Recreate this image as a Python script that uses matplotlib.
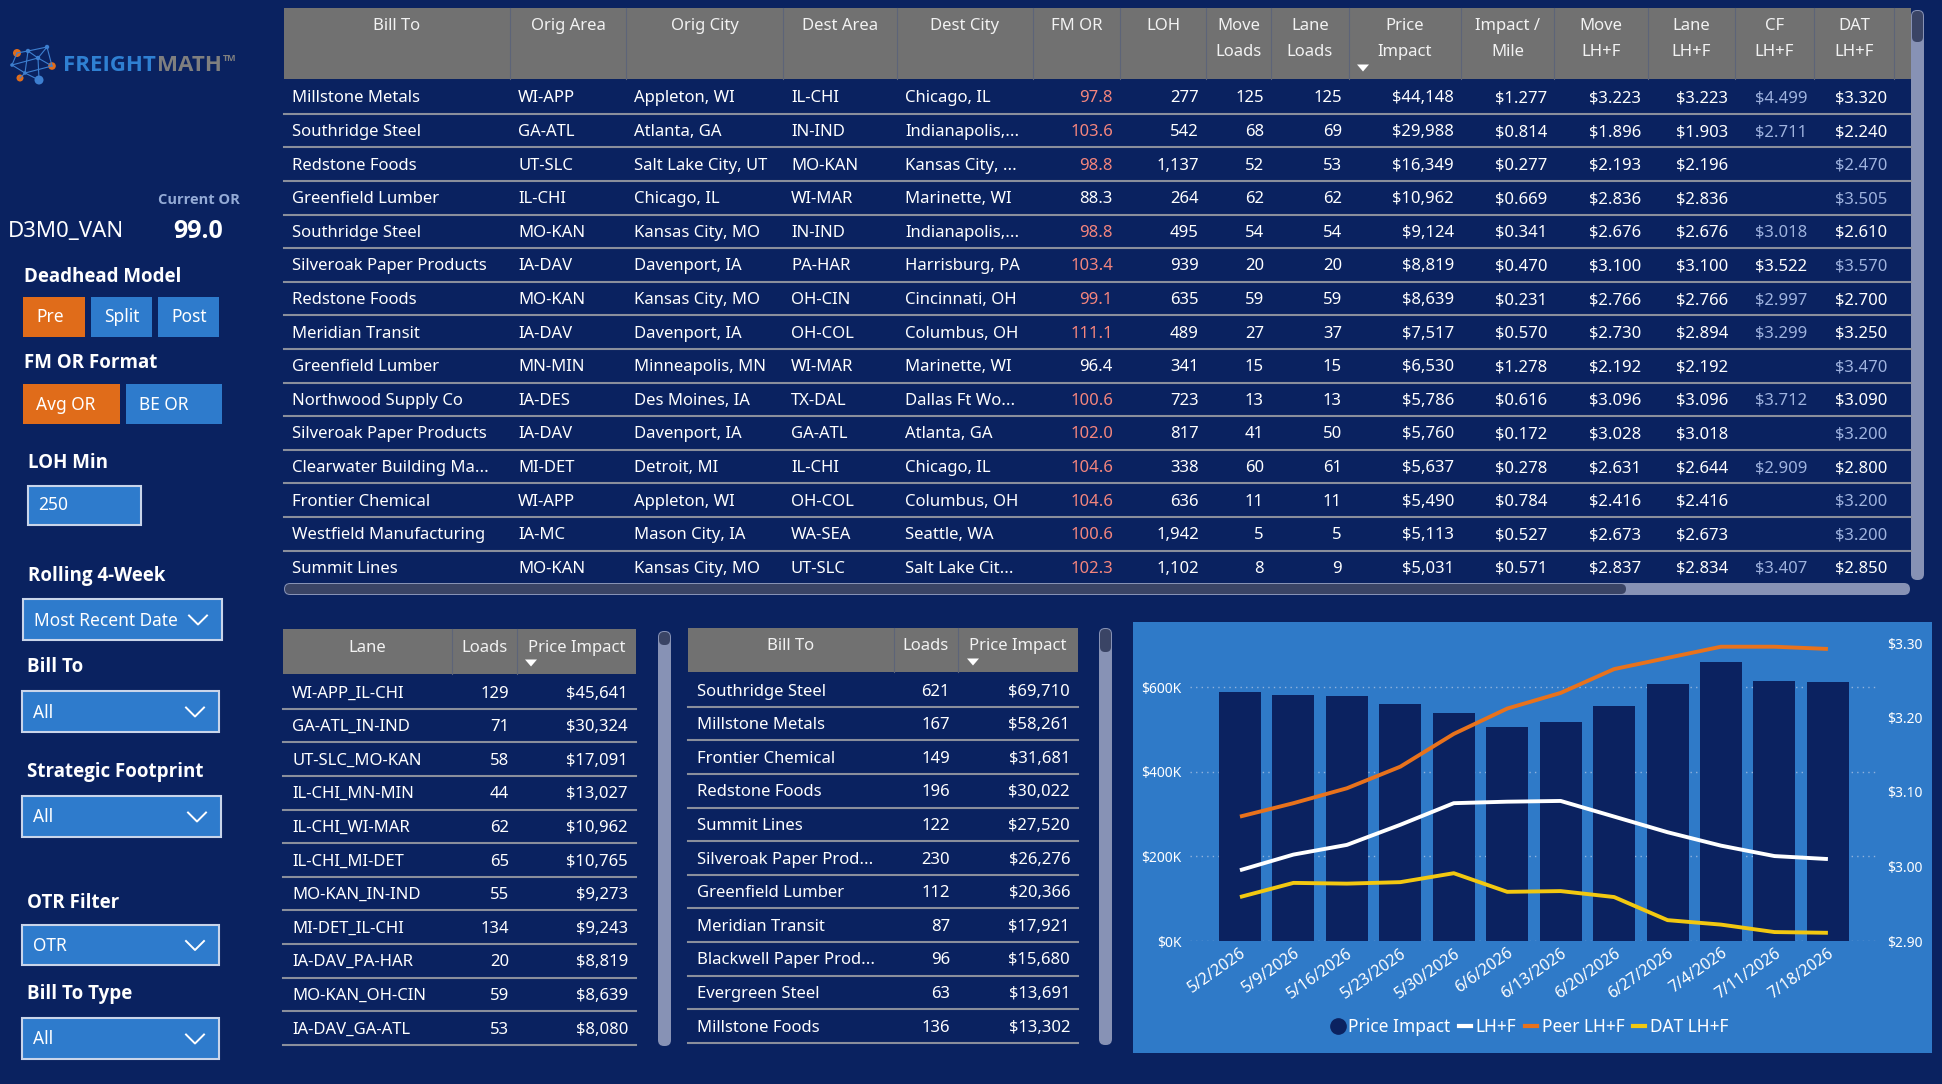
import matplotlib
matplotlib.use("Agg")
import matplotlib.pyplot as plt
from matplotlib import font_manager as fm
from matplotlib.patches import Rectangle, FancyBboxPatch, Polygon, Circle
from matplotlib.lines import Line2D
import numpy as np

plt.rcParams['font.family'] = ['Noto Sans', 'DejaVu Sans']

# ---------------- DATA ----------------
main_headers = ["Bill To", "Orig Area", "Orig City", "Dest Area", "Dest City", "FM OR", "LOH",
                "Move\nLoads", "Lane\nLoads", "Price\nImpact", "Impact /\nMile", "Move\nLH+F",
                "Lane\nLH+F", "CF\nLH+F", "DAT\nLH+F"]
bill_to = ["Millstone Metals", "Southridge Steel", "Redstone Foods", "Greenfield Lumber",
           "Southridge Steel", "Silveroak Paper Products", "Redstone Foods", "Meridian Transit",
           "Greenfield Lumber", "Northwood Supply Co", "Silveroak Paper Products",
           "Clearwater Building Ma...", "Frontier Chemical", "Westfield Manufacturing", "Summit Lines"]
orig_area = ["WI-APP", "GA-ATL", "UT-SLC", "IL-CHI", "MO-KAN", "IA-DAV", "MO-KAN", "IA-DAV",
             "MN-MIN", "IA-DES", "IA-DAV", "MI-DET", "WI-APP", "IA-MC", "MO-KAN"]
orig_city = ["Appleton, WI", "Atlanta, GA", "Salt Lake City, UT", "Chicago, IL", "Kansas City, MO",
             "Davenport, IA", "Kansas City, MO", "Davenport, IA", "Minneapolis, MN", "Des Moines, IA",
             "Davenport, IA", "Detroit, MI", "Appleton, WI", "Mason City, IA", "Kansas City, MO"]
dest_area = ["IL-CHI", "IN-IND", "MO-KAN", "WI-MAR", "IN-IND", "PA-HAR", "OH-CIN", "OH-COL",
             "WI-MAR", "TX-DAL", "GA-ATL", "IL-CHI", "OH-COL", "WA-SEA", "UT-SLC"]
dest_city = ["Chicago, IL", "Indianapolis,...", "Kansas City, ...", "Marinette, WI", "Indianapolis,...",
             "Harrisburg, PA", "Cincinnati, OH", "Columbus, OH", "Marinette, WI", "Dallas Ft Wo...",
             "Atlanta, GA", "Chicago, IL", "Columbus, OH", "Seattle, WA", "Salt Lake Cit..."]
fm_or = [97.8, 103.6, 98.8, 88.3, 98.8, 103.4, 99.1, 111.1, 96.4, 100.6, 102.0, 104.6, 104.6, 100.6, 102.3]
loh = [277, 542, 1137, 264, 495, 939, 635, 489, 341, 723, 817, 338, 636, 1942, 1102]
move_loads = [125, 68, 52, 62, 54, 20, 59, 27, 15, 13, 41, 60, 11, 5, 8]
lane_loads = [125, 69, 53, 62, 54, 20, 59, 37, 15, 13, 50, 61, 11, 5, 9]
price_impact = [44148, 29988, 16349, 10962, 9124, 8819, 8639, 7517, 6530, 5786, 5760, 5637, 5490, 5113, 5031]
impact_mile = [1.277, 0.814, 0.277, 0.669, 0.341, 0.470, 0.231, 0.570, 1.278, 0.616, 0.172, 0.278, 0.784, 0.527, 0.571]
move_lhf = [3.223, 1.896, 2.193, 2.836, 2.676, 3.100, 2.766, 2.730, 2.192, 3.096, 3.028, 2.631, 2.416, 2.673, 2.837]
lane_lhf = [3.223, 1.903, 2.196, 2.836, 2.676, 3.100, 2.766, 2.894, 2.192, 3.096, 3.018, 2.644, 2.416, 2.673, 2.834]
cf_lhf = [4.499, 2.711, None, None, 3.018, 3.522, 2.997, 3.299, None, 3.712, None, 2.909, None, None, 3.407]
dat_lhf = [3.320, 2.240, 2.470, 3.505, 2.610, 3.570, 2.700, 3.250, 3.470, 3.090, 3.200, 2.800, 3.200, 3.200, 2.850]

lane_headers = ["Lane", "Loads", "Price Impact"]
lane_names = ["WI-APP_IL-CHI", "GA-ATL_IN-IND", "UT-SLC_MO-KAN", "IL-CHI_MN-MIN", "IL-CHI_WI-MAR",
              "IL-CHI_MI-DET", "MO-KAN_IN-IND", "MI-DET_IL-CHI", "IA-DAV_PA-HAR", "MO-KAN_OH-CIN",
              "IA-DAV_GA-ATL"]
lane_loads_tbl = [129, 71, 58, 44, 62, 65, 55, 134, 20, 59, 53]
lane_impact_tbl = [45641, 30324, 17091, 13027, 10962, 10765, 9273, 9243, 8819, 8639, 8080]

bill_headers = ["Bill To", "Loads", "Price Impact"]
bill_names = ["Southridge Steel", "Millstone Metals", "Frontier Chemical", "Redstone Foods",
              "Summit Lines", "Silveroak Paper Prod...", "Greenfield Lumber", "Meridian Transit",
              "Blackwell Paper Prod...", "Evergreen Steel", "Millstone Foods"]
bill_loads_tbl = [621, 167, 149, 196, 122, 230, 112, 87, 96, 63, 136]
bill_impact_tbl = [69710, 58261, 31681, 30022, 27520, 26276, 20366, 17921, 15680, 13691, 13302]

weeks = ["5/2/2026", "5/9/2026", "5/16/2026", "5/23/2026", "5/30/2026", "6/6/2026",
         "6/13/2026", "6/20/2026", "6/27/2026", "7/4/2026", "7/11/2026", "7/18/2026"]
weekly_impact_k = [588, 580, 578, 559, 539, 506, 518, 554, 607, 660, 613, 611]
weekly_lhf = [2.995, 3.016, 3.029, 3.056, 3.085, 3.087, 3.088, 3.067, 3.046, 3.028, 3.014, 3.010]
weekly_peer_lhf = [3.067, 3.085, 3.105, 3.134, 3.178, 3.212, 3.233, 3.265, 3.280, 3.295, 3.295, 3.292]
weekly_dat_lhf = [2.959, 2.978, 2.977, 2.979, 2.991, 2.966, 2.967, 2.959, 2.928, 2.922, 2.912, 2.911]
left_ticks = [0, 200, 400, 600]
left_tick_labels = ["$0K", "$200K", "$400K", "$600K"]
right_ticks = [2.90, 3.00, 3.10, 3.20, 3.30]
right_tick_labels = ["$2.90", "$3.00", "$3.10", "$3.20", "$3.30"]
legend_labels = ["Price Impact", "LH+F", "Peer LH+F", "DAT LH+F"]

# ---------------- STYLE ----------------
NAVY = '#0a2260'
BAR = '#0b2260'
HDR = '#717171'
BLUE = '#2e7bcc'
ORANGE = '#e06c1a'
CHART_BG = '#2f7ac8'
RED_TXT = '#f4857d'
LBLUE_TXT = '#9fb3df'
SEP = '#8a8f9c'
TRACK = '#8792b5'
THUMB = '#3a4465'
PEER = '#e8721c'
DAT = '#f2c811'


def _weight(f):
    w = f.weight
    if isinstance(w, str):
        w = fm.weight_dict.get(w, 400)
    return w


def has_bold(fam):
    return any(f.name == fam and _weight(f) >= 600 for f in fm.fontManager.ttflist)


BOLD_FAM = next((f for f in ['Noto Sans', 'Open Sans', 'Lato', 'Roboto', 'Liberation Sans']
                 if has_bold(f)), 'DejaVu Sans')
BOLD = [BOLD_FAM, 'DejaVu Sans']

W, H = 1942, 1084
DPI = 100
fig = plt.figure(figsize=(W / DPI, H / DPI), dpi=DPI)
fig.patch.set_facecolor(NAVY)
bg = fig.add_axes([0, 0, 1, 1])
bg.set_xlim(0, W)
bg.set_ylim(H, 0)
bg.axis('off')

TS = 12  # table font size
DY = 1.5  # vertical text nudge


def txt(x, y, s, size=TS, color='white', ha='left', va='center', weight='normal', **kw):
    if weight != 'normal':
        kw['family'] = BOLD
    return bg.text(x, y + DY, s, fontsize=size, color=color, ha=ha, va=va, fontweight=weight, **kw)


def rect(x0, y0, x1, y1, color, **kw):
    bg.add_patch(Rectangle((x0, y0), x1 - x0, y1 - y0, facecolor=color, edgecolor='none', **kw))


def rrect(x0, y0, x1, y1, color, r=6):
    bg.add_patch(FancyBboxPatch((x0, y0), x1 - x0, y1 - y0,
                                boxstyle=f"round,pad=0,rounding_size={r}",
                                facecolor=color, edgecolor='none'))


def tri(x, y, w=12, h=7):
    bg.add_patch(Polygon([(x - w / 2, y - h / 2), (x + w / 2, y - h / 2), (x, y + h / 2)],
                         closed=True, facecolor='white', edgecolor='none'))


# ---------------- LOGO ----------------
nodes = {'a': (17, 53), 'b': (28, 51), 'c': (47, 47), 'd': (38, 58), 'e': (52, 66),
         'f': (12, 65), 'g': (20, 78), 'h': (39, 80), 'i': (25, 73)}
edges = [('a', 'b'), ('b', 'c'), ('b', 'd'), ('c', 'd'), ('d', 'e'), ('c', 'e'), ('f', 'd'),
         ('f', 'i'), ('i', 'g'), ('i', 'h'), ('d', 'h'), ('b', 'i'), ('a', 'f'), ('i', 'e')]
for p, q in edges:
    bg.add_line(Line2D([nodes[p][0], nodes[q][0]], [nodes[p][1], nodes[q][1]],
                       color='#3d7fd0', lw=0.8))
for k, r, c in [('a', 4, ORANGE), ('b', 2.2, '#3d7fd0'), ('c', 2.2, '#3d7fd0'), ('d', 2.2, '#3d7fd0'),
                ('e', 3.8, ORANGE), ('f', 1.8, '#3d7fd0'), ('g', 3.5, ORANGE), ('h', 4.5, '#3d7fd0'),
                ('i', 1.8, '#3d7fd0')]:
    bg.add_patch(Circle(nodes[k], r, facecolor=c, edgecolor='none'))
t1 = txt(63, 64, "FREIGHT", size=16, color='#2f80d2', weight='bold')
renderer = fig.canvas.get_renderer()
ext = t1.get_window_extent(renderer=renderer)
t2 = txt(ext.x1 + 1, 64, "MATH", size=16, color='#7f7f7f', weight='bold')
ext2 = t2.get_window_extent(renderer=renderer)
txt(ext2.x1 + 1, 57, "TM", size=6.5, color='#7f7f7f', weight='bold')

# ---------------- SIDEBAR ----------------
txt(240, 199, "Current OR", size=10.5, color='#94abd6', ha='right', weight='bold')
txt(8, 230, "D3M0_VAN", size=16)
txt(223, 230, "99.0", size=18, ha='right', weight='bold')

HS = 13.5
txt(24, 275, "Deadhead Model", size=HS, weight='bold')
for (x0, x1, lab, col) in [(23, 85, "Pre", ORANGE), (91, 152, "Split", BLUE), (158, 219, "Post", BLUE)]:
    rect(x0, 297, x1, 337, col)
    txt(x0 + 13, 316, lab, size=12.5)
txt(24, 362, "FM OR Format", size=HS, weight='bold')
for (x0, x1, lab, col) in [(23, 120, "Avg OR", ORANGE), (126, 222, "BE OR", BLUE)]:
    rect(x0, 384, x1, 424, col)
    txt(x0 + 13, 403, lab, size=12.5)
txt(28, 461, "LOH Min", size=HS, weight='bold')
bg.add_patch(Rectangle((28, 486), 113, 39, facecolor=BLUE, edgecolor='#c9d5ea', lw=1.5))
txt(38, 504, "250", size=12.5)


def dropdown(y0, y1, label, x0=22, x1=219):
    bg.add_patch(Rectangle((x0, y0), x1 - x0, y1 - y0, facecolor=BLUE, edgecolor='#c9d5ea', lw=1.5))
    txt(x0 + 11, (y0 + y1) / 2 - 0.5, label, size=12.5)
    cx = x1 - 24
    cy = (y0 + y1) / 2
    bg.add_line(Line2D([cx - 9, cx, cx + 9], [cy - 4, cy + 5, cy - 4], color='white', lw=1.4))


txt(28, 574, "Rolling 4-Week", size=HS, weight='bold')
dropdown(599, 640, "Most Recent Date", x0=23, x1=222)
txt(27, 666, "Bill To", size=HS, weight='bold')
dropdown(691, 732, "All")
txt(27, 771, "Strategic Footprint", size=HS, weight='bold')
dropdown(796, 837, "All", x1=221)
txt(27, 901, "OTR Filter", size=HS, weight='bold')
dropdown(925, 965, "OTR")
txt(27, 993, "Bill To Type", size=HS, weight='bold')
dropdown(1018, 1059, "All")

# ---------------- MAIN TABLE ----------------
col_edges = [284, 510, 626, 783, 897, 1033, 1120, 1206, 1271, 1349, 1461, 1554, 1648, 1735, 1814, 1894]
T_RIGHT = 1911
HDR_TOP, HDR_BOT = 8, 79
ROW0, PITCH = 97, 33.6
rect(col_edges[0], HDR_TOP, T_RIGHT, HDR_BOT, HDR)
for e in col_edges[1:]:
    bg.add_line(Line2D([e, e], [HDR_TOP, HDR_BOT], color='#5d6478', lw=0.8))
for i, h in enumerate(main_headers):
    cx = (col_edges[i] + col_edges[i + 1]) / 2
    for j, line in enumerate(h.split("\n")):
        txt(cx, 25 + 25 * j, line, ha='center', color='#f2f2f2')
tri(1363, 68)


def fmt_money3(v):
    return "" if v is None else f"${v:.3f}"


n_rows = len(bill_to)
for r in range(n_rows):
    y = ROW0 + PITCH * r
    if r < n_rows - 1:
        bg.add_line(Line2D([col_edges[0], T_RIGHT], [y + 16.8, y + 16.8], color=SEP, lw=1.5))
    left_vals = [bill_to[r], orig_area[r], orig_city[r], dest_area[r], dest_city[r]]
    for c, v in enumerate(left_vals):
        txt(col_edges[c] + 8, y, v)
    cf = cf_lhf[r]
    dat = dat_lhf[r]
    cf_col = LBLUE_TXT if (cf is not None and cf >= dat) else 'white'
    dat_col = LBLUE_TXT if (cf is None or dat > cf) else 'white'
    right_vals = [(f"{fm_or[r]:.1f}", RED_TXT if fm_or[r] > 97 else 'white'),
                  (f"{loh[r]:,}", 'white'),
                  (f"{move_loads[r]}", 'white'),
                  (f"{lane_loads[r]}", 'white'),
                  (f"${price_impact[r]:,}", 'white'),
                  (fmt_money3(impact_mile[r]), 'white'),
                  (fmt_money3(move_lhf[r]), 'white'),
                  (fmt_money3(lane_lhf[r]), 'white'),
                  (fmt_money3(cf), cf_col),
                  (fmt_money3(dat), dat_col)]
    for k, (s, col) in enumerate(right_vals):
        txt(col_edges[5 + k + 1] - 7, y, s, ha='right', color=col)

# scrollbars for main table
rrect(1911, 10, 1924, 580, TRACK, r=6)
rrect(1912, 11, 1923, 42, THUMB, r=5)
rrect(284, 583, 1910, 595, TRACK, r=6)
rrect(285, 584, 1626, 594, THUMB, r=5)


# ---------------- LOWER TABLES ----------------
def small_table(edges_x, hdr_top, hdr_bot, hdr_text_y, row0, headers, names, loads, impacts, tri_xy,
                sb_x, sb_top, sb_bot, thumb_h):
    rect(edges_x[0], hdr_top, edges_x[-1], hdr_bot, HDR)
    for e in edges_x[1:-1]:
        bg.add_line(Line2D([e, e], [hdr_top, hdr_bot], color='#5d6478', lw=0.8))
    for i, h in enumerate(headers):
        cx = (edges_x[i] + edges_x[i + 1]) / 2
        txt(cx, hdr_text_y, h, ha='center', color='#f2f2f2')
    tri(*tri_xy)
    for r in range(len(names)):
        y = row0 + PITCH * r
        bg.add_line(Line2D([edges_x[0], edges_x[-1]], [y + 16.8, y + 16.8], color=SEP, lw=1.5))
        txt(edges_x[0] + 9, y, names[r])
        txt(edges_x[2] - 8, y, f"{loads[r]}", ha='right')
        txt(edges_x[3] - 8, y, f"${impacts[r]:,}", ha='right')
    rrect(sb_x, sb_top, sb_x + 13, sb_bot, TRACK, r=6)
    rrect(sb_x + 1, sb_top + 1, sb_x + 12, sb_top + thumb_h, THUMB, r=5)


small_table([283, 452, 517, 636], 629, 674, 647, 692, lane_headers, lane_names,
            lane_loads_tbl, lane_impact_tbl, (531, 663), 658, 631, 1046, 14)
small_table([688, 894, 958, 1078], 628, 672, 645, 690, bill_headers, bill_names,
            bill_loads_tbl, bill_impact_tbl, (973, 662), 1099, 628, 1045, 24)

# ---------------- CHART ----------------
rect(1133, 622, 1932, 1053, CHART_BG)
PB, PT = 941, 643
ax = fig.add_axes([1190 / W, (H - PB) / H, (1876 - 1190) / W, (PB - PT) / H])
ax.set_facecolor('none')
x = np.arange(len(weeks))
ax.bar(x, weekly_impact_k, width=0.786, color=BAR, zorder=2)
ax.set_xlim(-0.935, len(weeks) - 0.1)
ax.set_ylim(0, 600 * (PB - PT) / (PB - 687))
ax.set_yticks(left_ticks)
ax.set_yticklabels(left_tick_labels)
ax.yaxis.grid(True, linestyle=(0, (1, 3)), color='#8fb2dd', lw=1.0, zorder=1)
ax.set_axisbelow(True)
ax.set_xticks(x)
ax.set_xticklabels(weeks, rotation=35, ha='right', rotation_mode='anchor')
ax.tick_params(axis='x', length=0, pad=3, labelsize=11.5, labelcolor='white')
ax.tick_params(axis='y', length=0, pad=6, labelsize=10, labelcolor='white')
for s in ax.spines.values():
    s.set_visible(False)

ax2 = ax.twinx()
ax2.set_ylim(2.90, 3.30)
ax2.set_yticks(right_ticks)
ax2.set_yticklabels(right_tick_labels)
ax2.tick_params(axis='y', length=0, pad=8, labelsize=10, labelcolor='white')
for s in ax2.spines.values():
    s.set_visible(False)
ax2.plot(x, weekly_peer_lhf, color=PEER, lw=2.8, solid_capstyle='butt', zorder=3)
ax2.plot(x, weekly_lhf, color='white', lw=2.8, solid_capstyle='butt', zorder=3)
ax2.plot(x, weekly_dat_lhf, color=DAT, lw=2.8, solid_capstyle='butt', zorder=3)

handles = [Line2D([], [], marker='o', color=BAR, markersize=11, linestyle='none'),
           Line2D([], [], color='white', lw=3),
           Line2D([], [], color=PEER, lw=3),
           Line2D([], [], color=DAT, lw=3)]
fig.legend(handles, legend_labels, loc='center', bbox_to_anchor=(1530 / W, (H - 1027) / H),
           ncol=4, frameon=False, fontsize=12.5, labelcolor='white', handlelength=0.7,
           handletextpad=0.25, columnspacing=0.5)

fig.savefig("out.png", dpi=DPI, facecolor=NAVY)
